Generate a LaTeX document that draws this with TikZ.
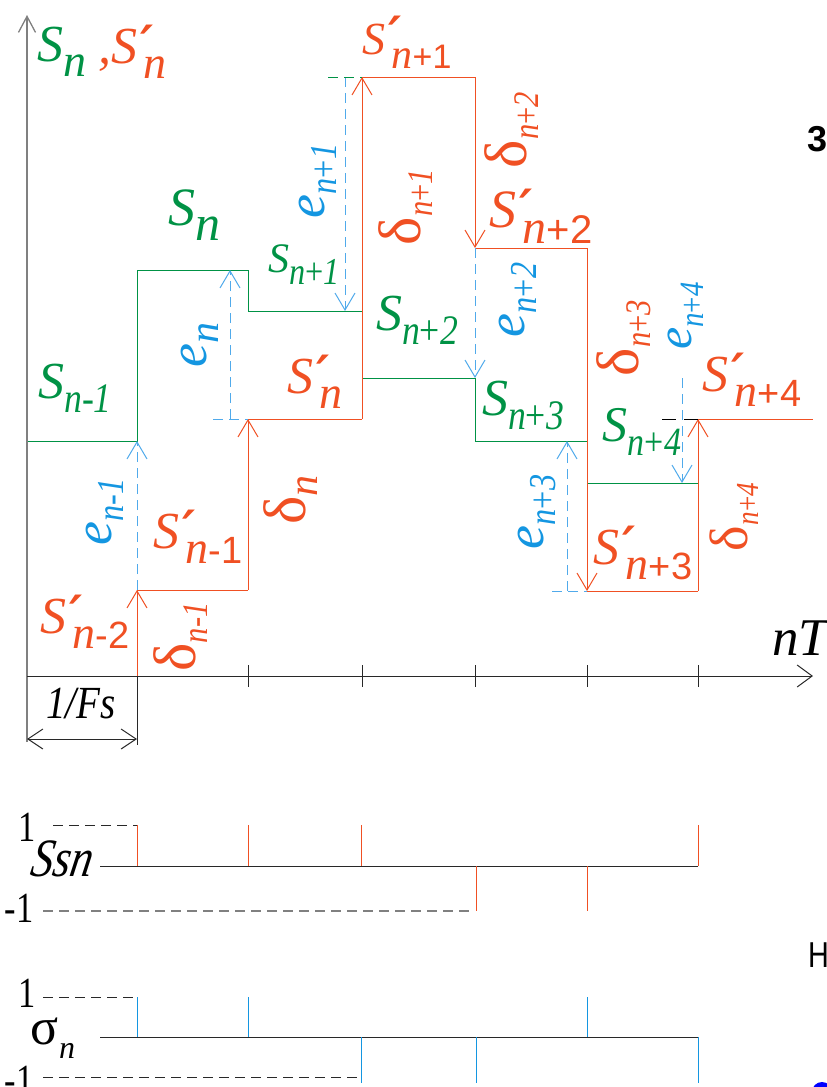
\documentclass[tikz,border=0pt]{standalone}
\usepackage{fontspec}
\usepackage{graphicx}
\setmainfont{Liberation Serif}
\newfontfamily\tms{Liberation Serif}
\newfontfamily\sansd{Liberation Sans}
\newfontfamily\primefont{DejaVu Sans}
\usetikzlibrary{arrows.meta}
\definecolor{G}{RGB}{0,146,69}
\definecolor{R}{RGB}{240,80,35}
\definecolor{B}{RGB}{20,150,225}
\definecolor{LB}{RGB}{80,170,235}
\definecolor{AX}{RGB}{40,40,40}
\newcommand\fs[1]{\fontsize{#1}{#1}\selectfont}
% green / blue label: #1 main size, #2 main letter, #3 sub size, #4 drop, #5 sub
\newcommand\Lg[5]{{\tms\fs{#1}\itshape #2\raisebox{-#4pt}{\fs{#3}#5}}}
% red S' label: #1 S size, #2 n size, #3 digit size, #4 drop, #5 digits
\newcommand\Sp[5]{{\tms\fs{#1}\itshape S\kern3pt\raisebox{2pt}{\primefont\bfseries\fs{50}′}\kern-10pt\raisebox{-#4pt}{\fs{#2}n\sansd\upshape\fs{#3}#5}}}
% delta label: #1 size, #2 sub size, #3 drop, #4 sub
\newcommand\Ld[4]{{\tms\fs{#1}δ\raisebox{-#3pt}{\fs{#2}\itshape #4}}}
\begin{document}
\begin{tikzpicture}[x=1pt,y=-1pt,
  sig/.style={line width=1pt},
  barb/.style={-{Straight Barb[length=17pt,width=20pt]}},
  errl/.style={draw=LB, line width=1pt, dash pattern=on 10pt off 6pt},
  gl/.style={text=G, inner sep=0pt},
  rl/.style={text=R, inner sep=0pt},
  bl/.style={text=B, inner sep=0pt, rotate=90},
  dl/.style={text=R, inner sep=0pt, rotate=90},
  kl/.style={text=black, inner sep=0pt}]
\useasboundingbox (0,0) rectangle (827,1087);

% green signal S
\draw[G, sig] (27,441) -| (137,270) -| (248,311) -| (362,378) -| (475,441) -| (587,483) -- (698,483);

% red signal S'
\draw[R, sig, barb] (137,676) -- (137,590);
\draw[R, sig] (137,590) -- (248,590);
\draw[R, sig, barb] (248,590) -- (248,419);
\draw[R, sig] (248,419) -- (362,419);
\draw[R, sig, barb] (362,419) -- (362,77);
\draw[R, sig] (362,77) -- (475,77);
\draw[R, sig, barb] (475,77) -- (475,248);
\draw[R, sig] (475,248) -- (587,248);
\draw[R, sig, barb] (587,248) -- (587,591);
\draw[R, sig] (587,591) -- (698,591);
\draw[R, sig, barb] (698,591) -- (698,419);
\draw[R, sig] (698,419) -- (813,419);

% error arrows (blue dashed)
\draw[errl, barb] (137,590) -- (137,441);
\draw[errl, barb] (230,419) -- (230,270);
\draw[errl] (213,419) -- (248,419);
\draw[errl, barb] (345,77) -- (345,311);
\draw[G, line width=1pt, dash pattern=on 10pt off 6pt] (328,77) -- (362,77);
\draw[errl, barb] (475,248) -- (475,378);
\draw[errl, barb] (567,591) -- (567,441);
\draw[errl] (552,591) -- (587,591);
\draw[errl, barb] (682,378) -- (682,483);
\draw[black, line width=1pt, dash pattern=on 14pt off 8pt] (662,419) -- (698,419);

% axes
\draw[gray, line width=1.3pt, -{Straight Barb[length=16pt,width=17pt]}] (27,742) -- (27,15);
\draw[AX, line width=1pt, -{Straight Barb[length=15pt,width=22pt]}] (27,676) -- (813,676);
\foreach \t in {248,362,475,587,698} \draw[AX, line width=1pt] (\t,665) -- (\t,687);
\draw[AX, line width=1pt] (137,676) -- (137,745);
\draw[AX, line width=1pt, {Straight Barb[length=15pt,width=20pt]}-{Straight Barb[length=15pt,width=20pt]}] (27,739) -- (137,739);
\node[kl] (fs) at (81,704) {\scalebox{0.85}[1]{\tms\fs{46}\itshape 1/Fs}};
\node[kl] (nt) at (800,638) {\tms\fs{53}\itshape nT};

% title labels
\node[gl] (t1) at (62,52) {\Lg{52}{S}{46}{15}{n}};
\node[rl, anchor=west] (t2) at (98,52) {{\tms\fs{52}\itshape ,}\Sp{52}{46}{38}{15}{}};

% green labels
\node[gl] (g0) at (194,215) {\Lg{54}{S}{50}{15}{n}};
\node[gl] (g1) at (75,388) {\Lg{52}{S}{42}{14}{\scalebox{0.85}[1]{n\upshape-\itshape1}}};
\node[gl] (g2) at (304,265) {\Lg{42}{S}{38}{12}{\scalebox{0.85}[1]{n\upshape+\itshape1}}};
\node[gl] (g3) at (417,320) {\Lg{52}{S}{42}{14}{\scalebox{0.85}[1]{n\upshape+\itshape2}}};
\node[gl] (g4) at (523,405) {\Lg{52}{S}{42}{14}{\scalebox{0.85}[1]{n\upshape+\itshape3}}};
\node[gl] (g5) at (642,432) {\Lg{50}{S}{40}{14}{\scalebox{0.85}[1]{n\upshape+\itshape4}}};

% red labels
\node[rl] (r1) at (407,42) {\Sp{46}{42}{34}{14}{+1}};
\node[rl] (r2) at (541,216) {\Sp{54}{48}{40}{16}{+2}};
\node[rl] (r3) at (315,382) {\Sp{52}{46}{38}{15}{}};
\node[rl] (r4) at (752,380) {\Sp{52}{46}{38}{15}{+4}};
\node[rl] (r5) at (198,537) {\Sp{52}{46}{38}{15}{-1}};
\node[rl] (r6) at (85,622) {\Sp{52}{46}{38}{15}{-2}};
\node[rl] (r7) at (643,553) {\Sp{52}{46}{38}{15}{+3}};

% delta labels (rotated)
\node[dl] (d1) at (181,637) {\Ld{60}{36}{12}{\scalebox{0.85}[1]{n\upshape-\itshape1}}};
\node[dl] (d2) at (291,500) {\Ld{60}{42}{12}{n}};
\node[dl] (d3) at (406,207) {\Ld{60}{36}{12}{\scalebox{0.85}[1]{n\upshape+\itshape1}}};
\node[dl] (d4) at (512,130) {\Ld{60}{36}{12}{\scalebox{0.85}[1]{n\upshape+\itshape2}}};
\node[dl] (d5) at (624,338) {\Ld{60}{36}{12}{\scalebox{0.85}[1]{n\upshape+\itshape3}}};
\node[dl] (d6) at (734,517) {\Ld{54}{32}{11}{\scalebox{0.85}[1]{n\upshape+\itshape4}}};

% e labels (rotated)
\node[bl] (e1) at (105,512) {\Lg{54}{e}{38}{12}{\scalebox{0.85}[1]{n\upshape-\itshape1}}};
\node[bl] (e2) at (200,345) {\Lg{54}{e}{42}{12}{n}};
\node[bl] (e3) at (318,181) {\Lg{54}{e}{38}{12}{\scalebox{0.85}[1]{n\upshape+\itshape1}}};
\node[bl] (e4) at (518,300) {\Lg{54}{e}{38}{12}{\scalebox{0.85}[1]{n\upshape+\itshape2}}};
\node[bl] (e5) at (537,512) {\Lg{54}{e}{38}{12}{\scalebox{0.85}[1]{n\upshape+\itshape3}}};
\node[bl] (e6) at (686,316) {\Lg{50}{e}{34}{12}{\scalebox{0.85}[1]{n\upshape+\itshape4}}};

% Ssn plot
\draw[AX, line width=1pt, dash pattern=on 10pt off 6pt] (53,825) -- (137,825);
\draw[gray, line width=1.2pt, dash pattern=on 10pt off 6pt] (43,911) -- (475,911);
\draw[AX, line width=1pt] (100,866) -- (698,866);
\foreach \t in {137,248,361,698} \draw[R, line width=1pt] (\t,866) -- (\t,825);
\foreach \t in {476,587} \draw[R, line width=1pt] (\t,866) -- (\t,911);
\node[kl] (one1) at (27,827) {\scalebox{0.8}[1]{\tms\fs{43}1}};
\node[kl, xslant=0.18] (ssn) at (63,859) {\scalebox{0.82}[1]{\tms\fs{54}\itshape Ssn}};
\node[kl] (mone1) at (19,908) {\scalebox{0.8}[1]{\tms\fs{43}-1}};

% sigma plot
\draw[AX, line width=1pt, dash pattern=on 10pt off 6pt] (43,997) -- (137,997);
\draw[AX, line width=1pt, dash pattern=on 10pt off 6pt] (43,1077) -- (358,1077);
\draw[AX, line width=1pt] (100,1037) -- (698,1037);
\foreach \t in {137,248,587} \draw[B, line width=1pt] (\t,1037) -- (\t,997);
\foreach \t in {361,476,698} \draw[B, line width=1pt] (\t,1037) -- (\t,1083);
\node[kl] (one2) at (27,993) {\scalebox{0.8}[1]{\tms\fs{43}1}};
\node[kl] (sig) at (53,1038) {\tms\fs{52}σ\raisebox{-14pt}{\fs{32}\itshape n}};
\node[kl] (mone2) at (19,1080) {\scalebox{0.8}[1]{\tms\fs{43}-1}};

% marks at the right edge
\node[kl] (s3) at (818,139) {\sansd\fs{36}\bfseries 3};
\node[kl, anchor=west] (sH) at (808,955) {\scalebox{0.8}[1]{\sansd\fs{36}H}};
\fill[blue] (822,1092) circle (10pt);
\end{tikzpicture}
\end{document}
